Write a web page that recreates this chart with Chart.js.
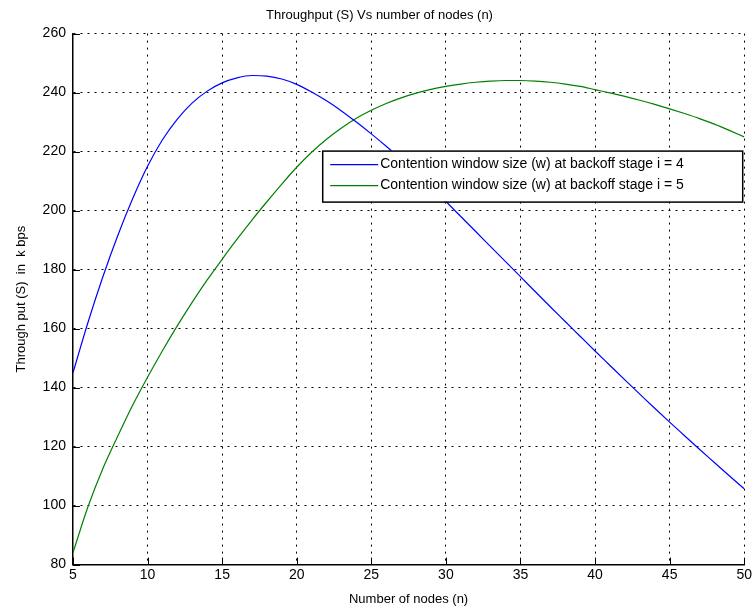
<!DOCTYPE html>
<html>
<head>
<meta charset="utf-8">
<title>Throughput vs number of nodes</title>
<script src="https://cdn.jsdelivr.net/npm/chart.js@4.4.1/dist/chart.umd.min.js"></script>
<style>
  html, body { margin: 0; padding: 0; background: #fff; }
  #wrap { width: 754px; height: 611px; }
</style>
</head>
<body>
<div id="wrap"><canvas id="tpChart" width="754" height="611"></canvas></div>
<script>
// number of nodes (n)
const nodes = [5, 6, 7, 8, 9, 10, 11, 12, 13, 14, 15, 16, 17, 18, 19, 20, 21, 22, 23, 24, 25, 26, 27,
  28, 29, 30, 31, 32, 33, 34, 35, 36, 37, 38, 39, 40, 41, 42, 43, 44, 45, 46, 47, 48, 49, 50];

// throughput in kbps, backoff stage i = 4
const stage4 = [145, 162, 177.5, 191.5, 204, 215, 224, 231, 236.5, 240.5, 243.3, 245, 245.8, 245.6,
  244.6, 242.8, 240.2, 237.2, 233.8, 230, 226, 221.8, 217.4, 212.8, 208, 203.1, 198, 192.9, 187.8,
  182.7, 177.6, 172.5, 167.4, 162.4, 157.4, 152.4, 147.5, 142.6, 137.8, 133, 128.3, 123.7, 119.1,
  114.6, 110.1, 105.7];

// throughput in kbps, backoff stage i = 5
const stage5 = [84, 99.5, 112.5, 123.5, 134, 143.5, 152.5, 161, 169, 176.5, 183.5, 190.3, 196.8, 203,
  209, 214.7, 219.8, 224.2, 228, 231.3, 234, 236.3, 238.2, 239.8, 241.1, 242.1, 242.9, 243.5, 243.9,
  244.1, 244.1, 243.9, 243.5, 242.9, 242.1, 241, 239.9, 238.7, 237.4, 236, 234.5, 232.9, 231.2, 229.3,
  227.2, 225];

const xTicks = [5, 10, 15, 20, 25, 30, 35, 40, 45, 50];
const yTicks = [80, 100, 120, 140, 160, 180, 200, 220, 240, 260];

const seriesNames = [
  'Contention window size (w) at backoff stage i = 4',
  'Contention window size (w) at backoff stage i = 5'
];

const FONT = "'Liberation Sans', Arial, sans-serif";

// matlab style ticks pointing into the plot
const innerTicks = {
  id: 'innerTicks',
  afterDatasetsDraw(chart) {
    const { ctx, chartArea, scales } = chart;
    ctx.save();
    ctx.strokeStyle = '#000';
    ctx.lineWidth = 1;
    ctx.beginPath();
    xTicks.forEach(v => {
      const x = Math.round(scales.x.getPixelForValue(v)) + 0.5;
      ctx.moveTo(x, chartArea.bottom);
      ctx.lineTo(x, chartArea.bottom - 7);
    });
    yTicks.forEach(v => {
      const y = Math.round(scales.y.getPixelForValue(v)) + 0.5;
      ctx.moveTo(chartArea.left, y);
      ctx.lineTo(chartArea.left + 7, y);
    });
    ctx.stroke();
    ctx.restore();
  }
};

// legend box drawn inside the plot, upper right
const boxLegend = {
  id: 'boxLegend',
  afterDatasetsDraw(chart) {
    const { ctx, chartArea } = chart;
    const w = 420, h = 51;
    const x0 = chartArea.right - w - 2;
    const y0 = chartArea.top + 117;
    ctx.save();
    ctx.fillStyle = '#fff';
    ctx.fillRect(x0, y0, w, h);
    ctx.strokeStyle = '#000';
    ctx.lineWidth = 1.5;
    ctx.strokeRect(x0 + 0.5, y0 + 0.5, w, h);
    ctx.font = '14px ' + FONT;
    ctx.textBaseline = 'middle';
    chart.data.datasets.forEach((ds, i) => {
      const y = y0 + 14 + i * 21;
      ctx.strokeStyle = ds.borderColor;
      ctx.lineWidth = 1.2;
      ctx.beginPath();
      ctx.moveTo(x0 + 8, y);
      ctx.lineTo(x0 + 56, y);
      ctx.stroke();
      ctx.fillStyle = '#000';
      ctx.fillText(ds.label, x0 + 58, y);
    });
    ctx.restore();
  }
};

const ctx = document.getElementById('tpChart').getContext('2d');
const tpChart = new Chart(ctx, {
  type: 'line',
  data: {
    datasets: [{
      label: seriesNames[0],
      data: nodes.map((n, i) => ({ x: n, y: stage4[i] })),
      borderColor: '#0000ff',
      borderWidth: 1.2,
      pointRadius: 0,
      fill: false,
      cubicInterpolationMode: 'monotone'
    }, {
      label: seriesNames[1],
      data: nodes.map((n, i) => ({ x: n, y: stage5[i] })),
      borderColor: '#008000',
      borderWidth: 1.2,
      pointRadius: 0,
      fill: false,
      cubicInterpolationMode: 'monotone'
    }]
  },
  options: {
    responsive: false,
    animation: false,
    layout: { padding: { left: 14, right: 9, top: 6, bottom: 4 } },
    plugins: {
      legend: { display: false },
      tooltip: { enabled: false },
      title: {
        display: true,
        text: 'Throughput (S) Vs number of nodes (n)',
        color: '#000',
        font: { family: FONT, size: 13, weight: 'normal' },
        padding: { top: 2, bottom: 10 }
      }
    },
    scales: {
      x: {
        type: 'linear',
        min: 5,
        max: 50,
        afterBuildTicks: axis => { axis.ticks = xTicks.map(v => ({ value: v })); },
        ticks: { color: '#000', font: { family: FONT, size: 14 }, padding: 2, maxRotation: 0 },
        grid: { color: '#000', lineWidth: 1, drawTicks: false },
        border: { display: true, color: '#000', width: 1.5, dash: [2, 5] },
        title: {
          display: true,
          text: 'Number of nodes (n)',
          color: '#000',
          font: { family: FONT, size: 13 },
          padding: { top: 6, bottom: 0 }
        }
      },
      y: {
        min: 80,
        max: 260,
        afterBuildTicks: axis => { axis.ticks = yTicks.map(v => ({ value: v })); },
        ticks: { color: '#000', font: { family: FONT, size: 14 }, padding: 7 },
        grid: { color: '#000', lineWidth: 1, drawTicks: false },
        border: { display: true, color: '#000', width: 1.5, dash: [2, 5] },
        title: {
          display: true,
          text: 'Through put (S)  in  k bps',
          color: '#000',
          font: { family: FONT, size: 13 },
          padding: { top: 0, bottom: 6 }
        }
      }
    }
  },
  plugins: [innerTicks, boxLegend]
});
</script>
</body>
</html>
